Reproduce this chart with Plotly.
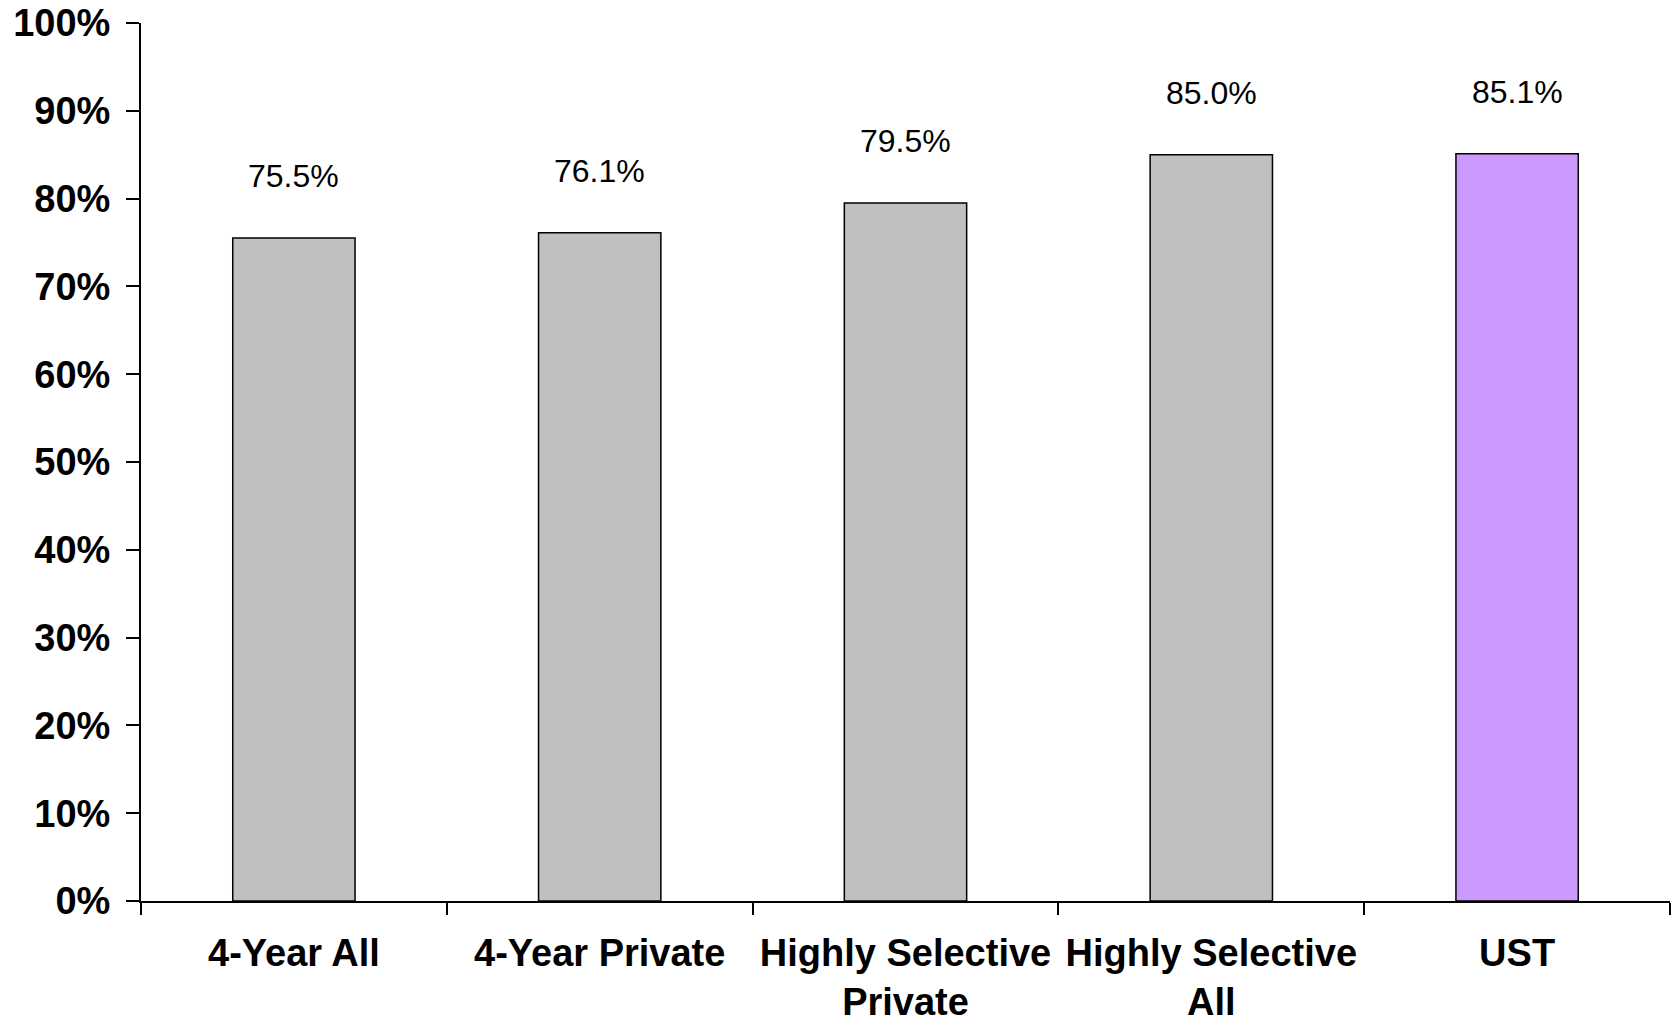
import plotly.graph_objects as go

categories = ["4-Year All", "4-Year Private", "Highly Selective<br>Private", "Highly Selective<br>All", "UST"]
values = [75.5, 76.1, 79.5, 85.0, 85.1]
labels = ["75.5%", "76.1%", "79.5%", "85.0%", "85.1%"]
colors = ["#C0C0C0", "#C0C0C0", "#C0C0C0", "#C0C0C0", "#CC99FF"]
y_ticks = [0, 10, 20, 30, 40, 50, 60, 70, 80, 90, 100]

fig = go.Figure()
fig.add_trace(go.Bar(
    x=categories, y=values,
    marker=dict(color=colors, line=dict(color="black", width=1.5)),
    width=0.4, hoverinfo="skip",
))

for c, v, t in zip(categories, values, labels):
    fig.add_annotation(x=c, y=v, text=t, showarrow=False, yanchor="middle", yshift=62,
                       font=dict(family="Liberation Sans, Arial", size=32, color="black"))

fig.update_layout(
    width=1677, height=1024,
    margin=dict(l=141, r=7, t=23, b=123),
    plot_bgcolor="white", paper_bgcolor="white",
    showlegend=False,
    font=dict(family="Liberation Sans, Arial", color="black"),
)
fig.update_xaxes(
    showline=True, linecolor="black", linewidth=2,
    ticks="outside", ticklen=12, tickwidth=2, tickcolor="black",
    tickson="boundaries", showgrid=False, automargin=False,
    ticklabeloverflow="allow",
    tickfont=dict(family="Liberation Sans, Arial", size=38, color="black", weight="bold"),
    ticklabelstandoff=17,
)
fig.update_yaxes(
    range=[0, 100], tickvals=y_ticks, ticktext=[f"{v}%" for v in y_ticks],
    showline=True, linecolor="black", linewidth=2,
    ticks="outside", ticklen=13, tickwidth=2, tickcolor="black",
    showgrid=False, zeroline=False, automargin=False,
    ticklabeloverflow="allow",
    tickfont=dict(family="Liberation Sans, Arial", size=38, color="black", weight="bold"),
    ticklabelstandoff=8,
)

fig.write_html("out.html")
